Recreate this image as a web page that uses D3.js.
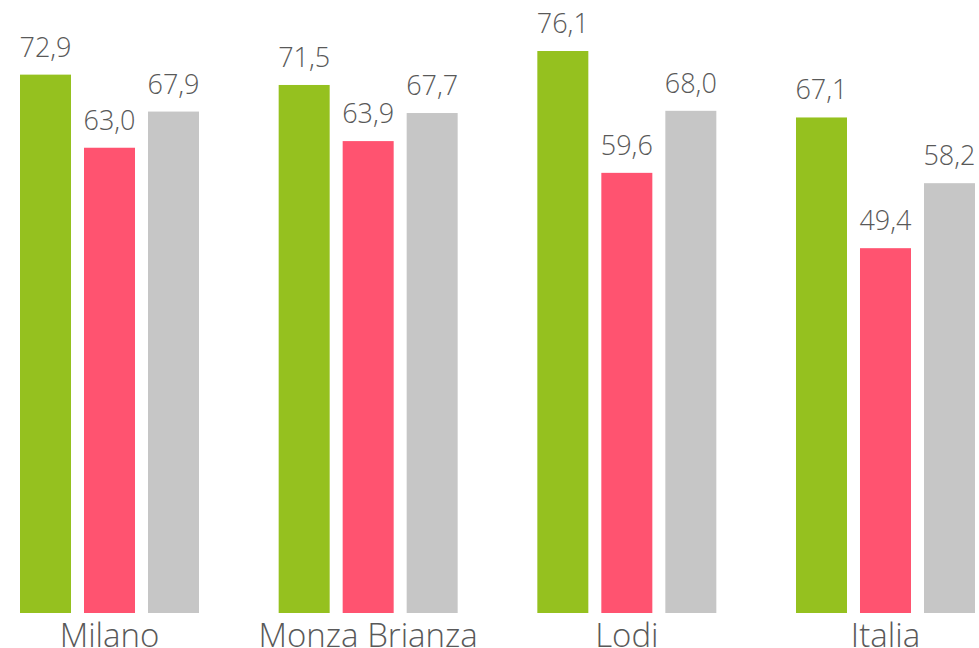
<!DOCTYPE html>
<html>
<head>
<meta charset="utf-8">
<script src="https://cdn.jsdelivr.net/npm/d3@7"></script>
<style>
  html, body { margin: 0; padding: 0; background: #fff; }
  svg { display: block; }
  text { font-family: "Open Sans", Lato, sans-serif; font-weight: 300; fill: #595959; }
</style>
</head>
<body>
<svg id="chart"></svg>
<script>
const categories = ['Milano', 'Monza Brianza', 'Lodi', 'Italia'];
const seriesNames = ['s1', 's2', 's3'];
const seriesColors = ['#95c11f', '#ff5370', '#c6c6c6'];
const values = [
  [72.9, 63.0, 67.9],
  [71.5, 63.9, 67.7],
  [76.1, 59.6, 68.0],
  [67.1, 49.4, 58.2]
];

const width = 979;
const height = 648;
const baseline = 613;

const svg = d3.select('#chart')
  .attr('width', width)
  .attr('height', height);

// groups: step 258.67, first group centred at 109.5
const x0 = d3.scaleBand()
  .domain(categories)
  .range([-19.83, 1014.83])
  .padding(0);

const x1 = d3.scaleBand()
  .domain(seriesNames)
  .range([x0.bandwidth() / 2 - 89.5, x0.bandwidth() / 2 + 89.5])
  .paddingInner(13 / 64)
  .paddingOuter(0);

const y = d3.scaleLinear()
  .domain([0, 76.1])
  .range([baseline, 51]);

const fmt = v => v.toFixed(1).replace('.', ',');

const groups = svg.selectAll('.group')
  .data(categories)
  .enter()
  .append('g')
  .attr('class', 'group')
  .attr('transform', d => `translate(${x0(d)},0)`);

groups.selectAll('rect')
  .data((d, i) => values[i].map((v, j) => ({ key: seriesNames[j], value: v, color: seriesColors[j] })))
  .enter()
  .append('rect')
  .attr('x', d => x1(d.key))
  .attr('y', d => y(d.value))
  .attr('width', x1.bandwidth())
  .attr('height', d => baseline - y(d.value))
  .attr('fill', d => d.color);

groups.selectAll('.val')
  .data((d, i) => values[i].map((v, j) => ({ key: seriesNames[j], value: v })))
  .enter()
  .append('text')
  .attr('class', 'val')
  .attr('x', d => x1(d.key) + x1.bandwidth() / 2)
  .attr('y', d => y(d.value) - 18)
  .attr('text-anchor', 'middle')
  .attr('font-size', '27px')
  .text(d => fmt(d.value));

// category axis
const xAxis = d3.axisBottom(x0).tickSize(0).tickPadding(0);
const axisG = svg.append('g')
  .attr('transform', `translate(0,${baseline})`)
  .call(xAxis);
axisG.select('.domain').remove();
axisG.selectAll('text')
  .attr('fill', '#595959')
  .attr('dy', null)
  .attr('y', 34)
  .attr('font-family', '"Open Sans", sans-serif')
  .attr('font-weight', 300)
  .attr('font-size', '33px');
</script>
</body>
</html>
